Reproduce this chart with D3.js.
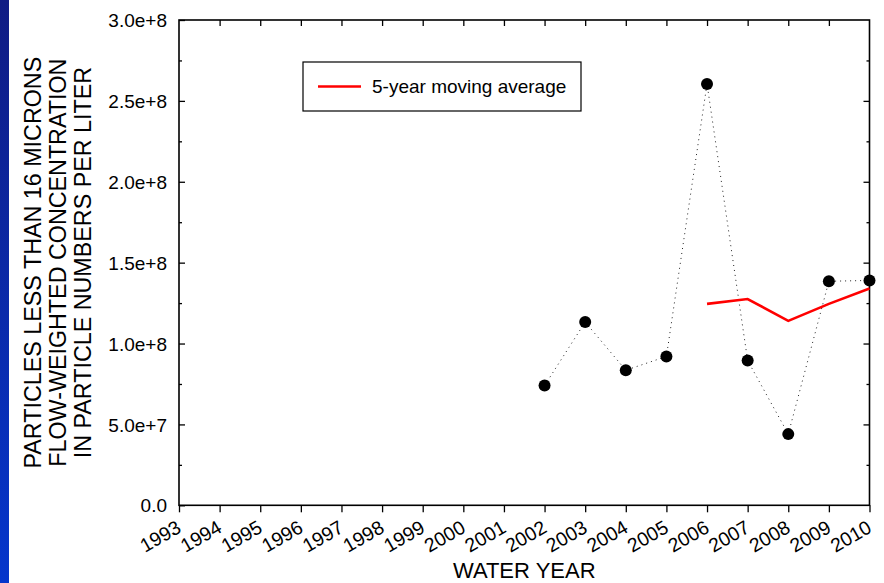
<!DOCTYPE html>
<html>
<head>
<meta charset="utf-8">
<script src="https://cdn.jsdelivr.net/npm/d3@7"></script>
<style>
  html, body { margin: 0; padding: 0; background: #fff; }
  svg { display: block; font-family: Arial, "Liberation Sans", sans-serif; }
</style>
</head>
<body>
<div id="chart"></div>
<script>
// water years on the x axis
const years = [1993, 1994, 1995, 1996, 1997, 1998, 1999, 2000, 2001, 2002,
  2003, 2004, 2005, 2006, 2007, 2008, 2009, 2010];
// annual flow-weighted concentration (particles per liter)
const obsYears = [2002, 2003, 2004, 2005, 2006, 2007, 2008, 2009, 2010];
const obsValues = [7.4e7, 1.133e8, 8.35e7, 9.2e7, 2.605e8, 8.95e7, 4.4e7, 1.385e8, 1.39e8];
// 5-year moving average
const avgYears = [2006, 2007, 2008, 2009, 2010];
const avgValues = [1.245e8, 1.275e8, 1.14e8, 1.245e8, 1.34e8];
const yTicks = [0, 5e7, 1e8, 1.5e8, 2e8, 2.5e8, 3e8];
const yTickLabels = ['0.0', '5.0e+7', '1.0e+8', '1.5e+8', '2.0e+8', '2.5e+8', '3.0e+8'];
const yTitle = ['PARTICLES LESS THAN 16 MICRONS', 'FLOW-WEIGHTED CONCENTRATION', 'IN PARTICLE NUMBERS PER LITER'];

const width = 884;
const height = 583;
const margin = { top: 20, right: 14.5, bottom: 77.7, left: 179 };
const innerW = width - margin.left - margin.right;
const innerH = height - margin.top - margin.bottom;

const svg = d3.select('#chart')
  .append('svg')
  .attr('width', width)
  .attr('height', height);

// blue slide strip at the left edge
const grad = svg.append('defs').append('linearGradient')
  .attr('id', 'strip')
  .attr('x1', 0).attr('y1', 0).attr('x2', 0).attr('y2', 1);
grad.append('stop').attr('offset', '0%').attr('stop-color', '#101c84');
grad.append('stop').attr('offset', '100%').attr('stop-color', '#0536cc');
svg.append('rect')
  .attr('x', 0).attr('y', 0)
  .attr('width', 9).attr('height', height)
  .attr('fill', 'url(#strip)');

const x = d3.scaleLinear().domain([1993, 2010]).range([0, innerW]);
const y = d3.scaleLinear().domain([0, 3e8]).range([innerH, 0]);

const g = svg.append('g')
  .attr('transform', `translate(${margin.left},${margin.top})`);

const minorY = d3.range(2.5e7, 3e8, 5e7);

// bottom axis, ticks outward
const bottom = g.append('g')
  .attr('transform', `translate(0,${innerH})`)
  .call(d3.axisBottom(x).tickValues(years).tickSize(7).tickSizeOuter(0).tickFormat(''));
bottom.selectAll('text').remove();
bottom.selectAll('.tick')
  .append('text')
  .attr('fill', '#000')
  .attr('font-size', 19.5)
  .attr('text-anchor', 'end')
  .attr('transform', 'translate(3,26) rotate(-30)')
  .text((d) => d);

// top axis, ticks inward
g.append('g')
  .call(d3.axisBottom(x).tickValues(years.slice(1, -1)).tickSize(6).tickSizeOuter(0).tickFormat(''));

// left axis, ticks inward
const left = g.append('g')
  .call(d3.axisRight(y).tickValues(yTicks).tickSize(6).tickSizeOuter(0).tickFormat(''));
left.selectAll('.tick')
  .append('text')
  .attr('fill', '#000')
  .attr('font-size', 19)
  .attr('text-anchor', 'end')
  .attr('x', -12)
  .attr('dy', '0.35em')
  .text((d, i) => yTickLabels[i]);
g.append('g')
  .call(d3.axisRight(y).tickValues(minorY).tickSize(3).tickSizeOuter(0).tickFormat(''));

// right axis, ticks inward
g.append('g')
  .attr('transform', `translate(${innerW},0)`)
  .call(d3.axisLeft(y).tickValues(yTicks.slice(1, -1)).tickSize(6).tickSizeOuter(0).tickFormat(''));
g.append('g')
  .attr('transform', `translate(${innerW},0)`)
  .call(d3.axisLeft(y).tickValues(minorY).tickSize(3).tickSizeOuter(0).tickFormat(''));

g.selectAll('.domain').remove();
g.selectAll('.tick line').attr('stroke', '#000').attr('stroke-width', 1.3);

g.append('rect')
  .attr('width', innerW)
  .attr('height', innerH)
  .attr('fill', 'none')
  .attr('stroke', '#000')
  .attr('stroke-width', 1.6);

const obs = obsYears.map((yr, i) => ({ yr, v: obsValues[i] }));
const avg = avgYears.map((yr, i) => ({ yr, v: avgValues[i] }));

const line = d3.line().x((d) => x(d.yr)).y((d) => y(d.v));

g.append('path')
  .datum(obs)
  .attr('d', line)
  .attr('fill', 'none')
  .attr('stroke', '#222')
  .attr('stroke-width', 1)
  .attr('stroke-dasharray', '1,4');

g.append('path')
  .datum(avg)
  .attr('d', line)
  .attr('fill', 'none')
  .attr('stroke', '#ff0000')
  .attr('stroke-width', 2.6);

g.selectAll('circle')
  .data(obs)
  .enter()
  .append('circle')
  .attr('cx', (d) => x(d.yr))
  .attr('cy', (d) => y(d.v))
  .attr('r', 6)
  .attr('fill', '#000');

// legend
const legend = svg.append('g').attr('transform', 'translate(303,62)');
legend.append('rect')
  .attr('width', 278).attr('height', 49)
  .attr('fill', '#fff').attr('stroke', '#000').attr('stroke-width', 1.2);
legend.append('line')
  .attr('x1', 15).attr('x2', 58).attr('y1', 24.5).attr('y2', 24.5)
  .attr('stroke', '#ff0000').attr('stroke-width', 2.6);
legend.append('text')
  .attr('x', 69).attr('y', 24.5).attr('dy', '0.35em')
  .attr('font-size', 19)
  .text('5-year moving average');

// axis titles
svg.append('text')
  .attr('x', margin.left + innerW / 2)
  .attr('y', 578)
  .attr('text-anchor', 'middle')
  .attr('font-size', 22)
  .text('WATER YEAR');

const yt = svg.append('text')
  .attr('transform', `translate(0,${margin.top + innerH / 2}) rotate(-90)`)
  .attr('text-anchor', 'middle')
  .attr('font-size', 23.3);
yt.selectAll('tspan')
  .data(yTitle)
  .enter()
  .append('tspan')
  .attr('x', 0)
  .attr('y', (d, i) => 40.5 + i * 25)
  .text((d) => d);
</script>
</body>
</html>
